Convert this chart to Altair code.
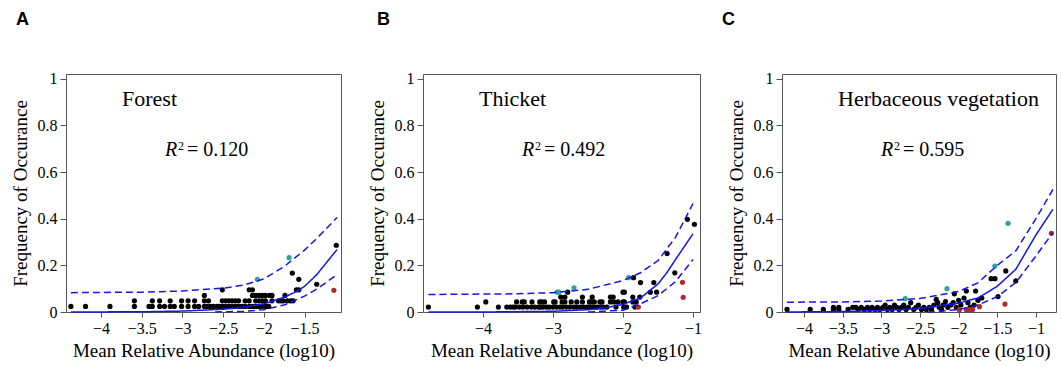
import altair as alt
import pandas as pd

# ---------------- data ----------------
# Panel A: Forest
a_black_x = [-4.37, -4.19, -3.89, -3.59, -3.59, -3.41, -3.37, -3.37, -3.28, -3.28, -3.22, -3.15, -3.15, -3.10,
             -3.01, -3.01, -2.93, -2.93, -2.85, -2.85, -2.80, -2.73, -2.73, -2.73, -2.70, -2.68, -2.66, -2.62,
             -2.575, -2.55, -2.51, -2.51, -2.51, -2.47, -2.47, -2.43, -2.43, -2.39, -2.39, -2.35, -2.35, -2.31,
             -2.31, -2.27, -2.23, -2.23, -2.18, -2.18, -2.18, -2.14, -2.14, -2.14, -2.10, -2.10, -2.10, -2.06,
             -2.06, -2.06, -2.02, -2.02, -2.02, -1.98, -1.98, -1.98, -1.94, -1.93, -1.90, -1.90, -1.82, -1.79,
             -1.76, -1.74, -1.71, -1.67, -1.64, -1.60, -1.57, -1.65, -1.57, -1.35, -1.11]
a_black_y = [0.024, 0.024, 0.024, 0.024, 0.048, 0.024, 0.024, 0.048, 0.024, 0.048, 0.024, 0.024, 0.048, 0.024,
             0.024, 0.048, 0.024, 0.048, 0.024, 0.048, 0.024, 0.024, 0.048, 0.071, 0.024, 0.048, 0.024, 0.024,
             0.024, 0.024, 0.024, 0.048, 0.095, 0.024, 0.048, 0.024, 0.048, 0.024, 0.048, 0.024, 0.048, 0.024,
             0.048, 0.024, 0.024, 0.048, 0.024, 0.048, 0.095, 0.024, 0.071, 0.095, 0.024, 0.048, 0.071, 0.024,
             0.048, 0.071, 0.024, 0.048, 0.071, 0.024, 0.048, 0.071, 0.024, 0.071, 0.071, 0.048, 0.048, 0.048,
             0.048, 0.071, 0.048, 0.048, 0.048, 0.095, 0.095, 0.167, 0.140, 0.119, 0.286]
a_above_x = [-2.08, -1.69]
a_above_y = [0.140, 0.233]
a_below_x = [-1.14]
a_below_y = [0.093]
a_fit_x = [-4.37, -3.5, -3.0, -2.5, -2.25, -2.0, -1.75, -1.6, -1.5, -1.35, -1.1]
a_fit_y = [0.0, 0.001, 0.004, 0.012, 0.020, 0.035, 0.063, 0.088, 0.110, 0.160, 0.268]
a_up_x = [-4.37, -3.5, -3.0, -2.5, -2.25, -2.0, -1.75, -1.5, -1.35, -1.1]
a_up_y = [0.083, 0.085, 0.090, 0.102, 0.115, 0.142, 0.195, 0.265, 0.315, 0.405]
a_lo_x = [-2.6, -2.25, -2.0, -1.75, -1.5, -1.35, -1.1]
a_lo_y = [0.0, 0.003, 0.010, 0.030, 0.068, 0.098, 0.160]

# Panel B: Thicket
b_black_x = [-4.78, -4.08, -3.96, -3.78,
             -3.66, -3.61, -3.57, -3.54, -3.48, -3.43, -3.37, -3.31, -3.26, -3.21, -3.18, -3.14, -3.09, -3.05,
             -3.00, -2.95, -2.90, -2.86, -2.81, -2.76, -2.70, -2.66, -2.61, -2.56, -2.51, -2.47, -2.42, -2.37,
             -2.32, -2.28, -2.23, -2.10, -1.99, -1.95, -1.83,
             -3.52, -3.44, -3.41, -3.30, -3.19, -3.16, -3.12, -2.99, -2.97, -2.87, -2.83, -2.74, -2.66, -2.58,
             -2.48, -2.45, -2.41, -2.33, -2.30, -2.18, -2.13, -2.07, -2.00, -1.98, -1.86, -1.81,
             -2.89, -2.83, -2.58, -2.44, -2.18, -2.14, -1.86, -1.76,
             -2.79, -2.00, -1.98, -1.61, -1.52,
             -1.85, -1.75, -1.56, -1.37, -1.26, -1.08, -0.98]
b_black_y = [0.021, 0.021, 0.043, 0.021,
             0.021, 0.021, 0.021, 0.021, 0.021, 0.021, 0.021, 0.021, 0.021, 0.021, 0.021, 0.021, 0.021, 0.021,
             0.021, 0.021, 0.021, 0.021, 0.021, 0.021, 0.021, 0.021, 0.021, 0.021, 0.021, 0.021, 0.021, 0.021,
             0.021, 0.021, 0.021, 0.021, 0.021, 0.021, 0.021,
             0.043, 0.043, 0.043, 0.043, 0.043, 0.043, 0.043, 0.043, 0.043, 0.043, 0.043, 0.043, 0.043, 0.043,
             0.043, 0.043, 0.043, 0.043, 0.043, 0.043, 0.043, 0.043, 0.043, 0.043, 0.043, 0.043,
             0.064, 0.064, 0.064, 0.064, 0.064, 0.064, 0.064, 0.064,
             0.085, 0.085, 0.085, 0.085, 0.085,
             0.147, 0.126, 0.126, 0.250, 0.168, 0.397, 0.376]
b_above_x = [-2.94, -2.92, -2.70, -1.92]
b_above_y = [0.085, 0.085, 0.104, 0.147]
b_below_x = [-1.15, -1.14, -1.78]
b_below_y = [0.127, 0.063, 0.021]
b_fit_x = [-4.78, -4.0, -3.0, -2.5, -2.25, -2.0, -1.75, -1.5, -1.37, -1.25, -1.0]
b_fit_y = [0.0, 0.0, 0.003, 0.010, 0.018, 0.033, 0.060, 0.120, 0.170, 0.225, 0.335]
b_up_x = [-4.78, -3.5, -3.0, -2.5, -2.0, -1.75, -1.5, -1.25, -1.0]
b_up_y = [0.075, 0.078, 0.083, 0.097, 0.135, 0.168, 0.220, 0.320, 0.465]
b_lo_x = [-2.5, -2.0, -1.75, -1.5, -1.25, -1.0]
b_lo_y = [0.0, 0.008, 0.035, 0.070, 0.130, 0.225]

# Panel C: Herbaceous vegetation
c_black_x = [-4.22, -3.92, -3.75, -3.62, -3.62, -3.55, -3.55, -3.43, -3.37, -3.33,
             -3.30, -3.26, -3.22, -3.18, -3.15, -3.12, -3.08, -3.05, -3.02, -2.98, -2.95, -2.92, -2.89, -2.86,
             -2.83, -2.80, -2.77, -2.74, -2.71, -2.68, -2.65, -2.62, -2.58, -2.55, -2.52, -2.48, -2.45, -2.42,
             -2.38, -2.35, -2.32, -2.29, -2.27, -2.25, -2.22, -2.20, -2.17, -2.14, -2.10, -2.07, -2.055, -2.03,
             -2.00, -1.97, -1.93, -1.90, -1.88, -1.85, -1.80, -1.78, -1.75, -1.70, -1.58, -1.53, -1.49, -1.39,
             -1.26]
c_black_y = [0.011, 0.011, 0.011, 0.011, 0.020, 0.011, 0.020, 0.011, 0.020, 0.020,
             0.011, 0.020, 0.011, 0.020, 0.011, 0.020, 0.011, 0.020, 0.011, 0.020, 0.030, 0.011, 0.020, 0.011,
             0.030, 0.020, 0.011, 0.020, 0.030, 0.011, 0.020, 0.040, 0.011, 0.020, 0.030, 0.011, 0.020, 0.011,
             0.020, 0.011, 0.030, 0.054, 0.040, 0.020, 0.011, 0.030, 0.045, 0.020, 0.030, 0.040, 0.078, 0.020,
             0.050, 0.030, 0.060, 0.090, 0.040, 0.020, 0.030, 0.090, 0.050, 0.060, 0.143, 0.143, 0.066, 0.176,
             0.133]
c_above_x = [-2.69, -2.15, -1.53, -1.36]
c_above_y = [0.057, 0.100, 0.197, 0.380]
c_below_x = [-1.99, -1.90, -1.86, -1.82, -1.73, -1.40, -0.80]
c_below_y = [0.010, 0.010, 0.010, 0.010, 0.023, 0.034, 0.337]
c_fit_x = [-4.22, -3.5, -3.0, -2.5, -2.0, -1.75, -1.5, -1.26, -1.0, -0.78]
c_fit_y = [0.0, 0.002, 0.006, 0.015, 0.038, 0.060, 0.110, 0.183, 0.330, 0.440]
c_up_x = [-4.22, -3.5, -3.0, -2.5, -2.0, -1.75, -1.5, -1.26, -1.0, -0.78]
c_up_y = [0.042, 0.043, 0.047, 0.058, 0.088, 0.125, 0.200, 0.262, 0.400, 0.525]
c_lo_x = [-2.4, -2.0, -1.75, -1.5, -1.26, -1.0, -0.78]
c_lo_y = [0.0, 0.010, 0.030, 0.066, 0.126, 0.240, 0.340]

panel_titles = ["Forest", "Thicket", "Herbaceous vegetation"]
panel_r2 = ["0.120", "0.492", "0.595"]
panel_letters = ["A", "B", "C"]
x_domains = [[-4.43, -1.052], [-4.857, -0.90], [-4.285, -0.74]]
x_ticks = [[-4, -3.5, -3, -2.5, -2, -1.5], [-4, -3, -2, -1], [-4, -3.5, -3, -2.5, -2, -1.5, -1]]
y_ticks = [0, 0.2, 0.4, 0.6, 0.8, 1]

# ---------------- style ----------------
SERIF = "Liberation Serif"
BLUE = "#1515f0"
TEAL = "#2fa3a3"
RED = "#b02a2a"
W = [275, 277, 274]
H = 238
LABEL_EXPR = "datum.value < 0 ? '\u2212' + format(-datum.value, '~g') : format(datum.value, '~g')"


def build(i, bx, by, ax, ay, lx, ly, fx, fy, ux, uy, dx, dy):
    pts = pd.DataFrame({
        "x": bx + ax + lx,
        "y": by + ay + ly,
        "g": ["neutral"] * len(bx) + ["above"] * len(ax) + ["below"] * len(lx),
    })
    crv = pd.DataFrame({
        "x": fx + ux + dx,
        "y": fy + uy + dy,
        "k": ["fit"] * len(fx) + ["upper"] * len(ux) + ["lower"] * len(dx),
    })
    xenc = alt.X("x:Q", scale=alt.Scale(domain=x_domains[i], nice=False, zero=False),
                 axis=alt.Axis(values=x_ticks[i], labelExpr=LABEL_EXPR, title="Mean Relative Abundance (log10)",
                               tickSize=5, labelPadding=3, titlePadding=5))
    yenc = alt.Y("y:Q", scale=alt.Scale(domain=[0, 1.02], nice=False),
                 axis=alt.Axis(values=y_ticks, format="~g", title="Frequency of Occurance",
                               tickSize=6, labelPadding=3, titlePadding=7))
    points = alt.Chart(pts).mark_circle(size=27, opacity=1).encode(
        x=xenc, y=yenc,
        color=alt.Color("g:N", scale=alt.Scale(domain=["neutral", "above", "below"],
                                                range=["#000000", TEAL, RED]), legend=None),
    )
    lines = alt.Chart(crv).mark_line(color=BLUE, strokeWidth=1.5).encode(
        x="x:Q", y="y:Q", detail="k:N",
        strokeDash=alt.StrokeDash("k:N", scale=alt.Scale(domain=["fit", "upper", "lower"],
                                                          range=[[1, 0], [7, 4], [7, 4]]), legend=None),
    )
    title = alt.Chart().mark_text(text=panel_titles[i], font=SERIF, fontSize=22, align="left",
                                  baseline="alphabetic", color="black").encode(
        x=alt.value(56), y=alt.value(32))
    r_it = alt.Chart().mark_text(text="R", font=SERIF, fontSize=20, fontStyle="italic", align="left",
                                 baseline="alphabetic", color="black").encode(
        x=alt.value(99), y=alt.value(82))
    r_sup = alt.Chart().mark_text(text="2", font=SERIF, fontSize=12, align="left",
                                  baseline="alphabetic", color="black").encode(
        x=alt.value(112), y=alt.value(76))
    r_val = alt.Chart().mark_text(text="= " + panel_r2[i], font=SERIF, fontSize=20, align="left",
                                  baseline="alphabetic", color="black").encode(
        x=alt.value(121), y=alt.value(82))
    letter = alt.Chart().mark_text(text=panel_letters[i], font="Liberation Sans", fontSize=18,
                                   fontWeight="bold", align="left", baseline="alphabetic",
                                   color="black").encode(
        x=alt.value([-50, -46, -60][i]), y=alt.value(-49))
    return alt.layer(points, lines, title, r_it, r_sup, r_val, letter).properties(width=W[i], height=H)


pa = build(0, a_black_x, a_black_y, a_above_x, a_above_y, a_below_x, a_below_y,
           a_fit_x, a_fit_y, a_up_x, a_up_y, a_lo_x, a_lo_y)
pb = build(1, b_black_x, b_black_y, b_above_x, b_above_y, b_below_x, b_below_y,
           b_fit_x, b_fit_y, b_up_x, b_up_y, b_lo_x, b_lo_y)
pc = build(2, c_black_x, c_black_y, c_above_x, c_above_y, c_below_x, c_below_y,
           c_fit_x, c_fit_y, c_up_x, c_up_y, c_lo_x, c_lo_y)

chart = alt.hconcat(pa, pb, pc, spacing=82, bounds="flush").properties(
    padding={"left": 10, "top": 10, "right": 0, "bottom": 0},
    background="white",
).configure_view(stroke="#555555", strokeWidth=1).configure_axis(
    grid=False, domain=False, tickColor="#555555", tickWidth=1,
    labelFont=SERIF, labelFontSize=16, labelColor="black",
    titleFont=SERIF, titleFontSize=19, titleFontWeight="normal", titleColor="black",
)

chart.save("out.html", embed_options={"renderer": "svg", "actions": False})
